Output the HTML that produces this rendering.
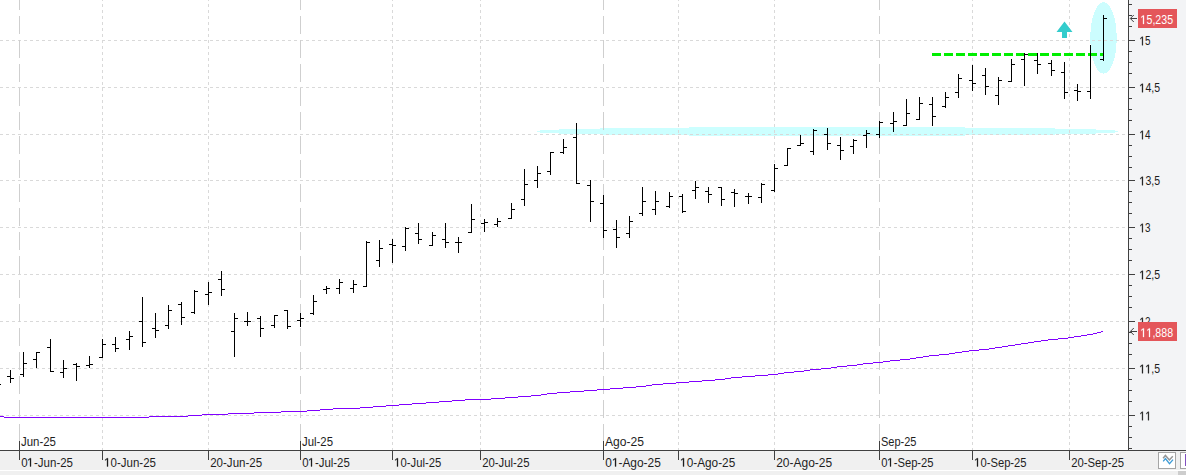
<!DOCTYPE html>
<html><head><meta charset="utf-8"><title>Chart</title>
<style>
html,body{margin:0;padding:0;background:#fff;overflow:hidden}
svg{display:block;font-family:"Liberation Sans",sans-serif}
rect,line{shape-rendering:crispEdges}
</style></head><body>
<svg width="1186" height="475" viewBox="0 0 1186 475">
<rect x="0" y="0" width="1186" height="475" fill="#ffffff"/>
<rect x="1129" y="0" width="57" height="450" fill="#f3f4f6"/>
<rect x="0" y="451" width="1186" height="19" fill="#f0f0f0"/>
<rect x="0" y="470" width="1186" height="5" fill="#f0f0f0"/>
<rect x="0" y="470" width="1186" height="1" fill="#ffffff"/>
<rect x="1178" y="471" width="8" height="4" fill="#cdcdcd"/>
<rect x="689" y="127" width="276" height="9" fill="#ccffff"/>
<rect x="600" y="128" width="455" height="7" fill="#ccffff"/>
<rect x="559" y="129" width="537" height="5" fill="#ccffff"/>
<rect x="540" y="130" width="575" height="3" fill="#ccffff"/>
<rect x="537" y="131" width="581" height="1" fill="#ccffff"/>
<ellipse cx="1103.5" cy="37.9" rx="13.2" ry="35.8" fill="#ccfdfe" shape-rendering="crispEdges"/>
<g stroke-width="1" stroke="#d9d9d9"><line x1="0" y1="40.5" x2="1128" y2="40.5" stroke-dasharray="3 3"/>
<line x1="0" y1="87.5" x2="1128" y2="87.5" stroke-dasharray="3 3"/>
<line x1="0" y1="134.5" x2="1128" y2="134.5" stroke-dasharray="3 3"/>
<line x1="0" y1="180.5" x2="1128" y2="180.5" stroke-dasharray="3 3"/>
<line x1="0" y1="227.5" x2="1128" y2="227.5" stroke-dasharray="3 3"/>
<line x1="0" y1="274.5" x2="1128" y2="274.5" stroke-dasharray="3 3"/>
<line x1="0" y1="321.5" x2="1128" y2="321.5" stroke-dasharray="3 3"/>
<line x1="0" y1="368.5" x2="1128" y2="368.5" stroke-dasharray="3 3"/>
<line x1="0" y1="415.5" x2="1128" y2="415.5" stroke-dasharray="3 3"/>
<line x1="102.5" y1="-2" x2="102.5" y2="450" stroke-dasharray="3 3"/>
<line x1="208.5" y1="-2" x2="208.5" y2="450" stroke-dasharray="3 3"/>
<line x1="392.5" y1="-2" x2="392.5" y2="450" stroke-dasharray="3 3"/>
<line x1="480.5" y1="-2" x2="480.5" y2="450" stroke-dasharray="3 3"/>
<line x1="678.5" y1="-2" x2="678.5" y2="450" stroke-dasharray="3 3"/>
<line x1="774.5" y1="-2" x2="774.5" y2="450" stroke-dasharray="3 3"/>
<line x1="972.5" y1="-2" x2="972.5" y2="450" stroke-dasharray="3 3"/>
<line x1="1069.5" y1="-2" x2="1069.5" y2="450" stroke-dasharray="3 3"/></g>
<g stroke-width="1" stroke="#cfcfcf"><line x1="19.5" y1="-8" x2="19.5" y2="450" stroke-dasharray="18 6"/>
<line x1="300.5" y1="-8" x2="300.5" y2="450" stroke-dasharray="18 6"/>
<line x1="603.5" y1="-8" x2="603.5" y2="450" stroke-dasharray="18 6"/>
<line x1="879.5" y1="-8" x2="879.5" y2="450" stroke-dasharray="18 6"/></g>
<line x1="932" y1="54.5" x2="1103" y2="54.5" stroke="#00ee00" stroke-width="3" stroke-dasharray="9 3"/>
<polygon points="1064.5,21.5 1072.5,32 1067,32 1067,38 1062,38 1062,32 1056.5,32" fill="#33cccc"/>
<rect x="0" y="416" width="4" height="1" fill="#8000ff"/>
<rect x="4" y="417" width="145" height="1" fill="#8000ff"/>
<rect x="149" y="416" width="39" height="1" fill="#8000ff"/>
<rect x="188" y="415" width="14" height="1" fill="#8000ff"/>
<rect x="202" y="414" width="26" height="1" fill="#8000ff"/>
<rect x="228" y="413" width="26" height="1" fill="#8000ff"/>
<rect x="254" y="412" width="27" height="1" fill="#8000ff"/>
<rect x="281" y="411" width="26" height="1" fill="#8000ff"/>
<rect x="307" y="410" width="13" height="1" fill="#8000ff"/>
<rect x="320" y="409" width="13" height="1" fill="#8000ff"/>
<rect x="333" y="408" width="27" height="1" fill="#8000ff"/>
<rect x="360" y="407" width="13" height="1" fill="#8000ff"/>
<rect x="373" y="406" width="13" height="1" fill="#8000ff"/>
<rect x="386" y="405" width="13" height="1" fill="#8000ff"/>
<rect x="399" y="404" width="13" height="1" fill="#8000ff"/>
<rect x="412" y="403" width="14" height="1" fill="#8000ff"/>
<rect x="426" y="402" width="13" height="1" fill="#8000ff"/>
<rect x="439" y="401" width="13" height="1" fill="#8000ff"/>
<rect x="452" y="400" width="13" height="1" fill="#8000ff"/>
<rect x="465" y="399" width="26" height="1" fill="#8000ff"/>
<rect x="491" y="398" width="14" height="1" fill="#8000ff"/>
<rect x="505" y="397" width="13" height="1" fill="#8000ff"/>
<rect x="518" y="396" width="13" height="1" fill="#8000ff"/>
<rect x="531" y="395" width="10" height="1" fill="#8000ff"/>
<rect x="541" y="394" width="6" height="1" fill="#8000ff"/>
<rect x="547" y="393" width="10" height="1" fill="#8000ff"/>
<rect x="557" y="392" width="13" height="1" fill="#8000ff"/>
<rect x="570" y="391" width="14" height="1" fill="#8000ff"/>
<rect x="584" y="390" width="13" height="1" fill="#8000ff"/>
<rect x="597" y="389" width="13" height="1" fill="#8000ff"/>
<rect x="610" y="388" width="13" height="1" fill="#8000ff"/>
<rect x="623" y="387" width="13" height="1" fill="#8000ff"/>
<rect x="636" y="386" width="10" height="1" fill="#8000ff"/>
<rect x="646" y="385" width="6" height="1" fill="#8000ff"/>
<rect x="652" y="384" width="11" height="1" fill="#8000ff"/>
<rect x="663" y="383" width="13" height="1" fill="#8000ff"/>
<rect x="676" y="382" width="13" height="1" fill="#8000ff"/>
<rect x="689" y="381" width="13" height="1" fill="#8000ff"/>
<rect x="702" y="380" width="13" height="1" fill="#8000ff"/>
<rect x="715" y="379" width="10" height="1" fill="#8000ff"/>
<rect x="725" y="378" width="6" height="1" fill="#8000ff"/>
<rect x="731" y="377" width="11" height="1" fill="#8000ff"/>
<rect x="742" y="376" width="13" height="1" fill="#8000ff"/>
<rect x="755" y="375" width="13" height="1" fill="#8000ff"/>
<rect x="768" y="374" width="10" height="1" fill="#8000ff"/>
<rect x="778" y="373" width="6" height="1" fill="#8000ff"/>
<rect x="784" y="372" width="10" height="1" fill="#8000ff"/>
<rect x="794" y="371" width="10" height="1" fill="#8000ff"/>
<rect x="804" y="370" width="6" height="1" fill="#8000ff"/>
<rect x="810" y="369" width="11" height="1" fill="#8000ff"/>
<rect x="821" y="368" width="10" height="1" fill="#8000ff"/>
<rect x="831" y="367" width="6" height="1" fill="#8000ff"/>
<rect x="837" y="366" width="10" height="1" fill="#8000ff"/>
<rect x="847" y="365" width="10" height="1" fill="#8000ff"/>
<rect x="857" y="364" width="6" height="1" fill="#8000ff"/>
<rect x="863" y="363" width="10" height="1" fill="#8000ff"/>
<rect x="873" y="362" width="10" height="1" fill="#8000ff"/>
<rect x="883" y="361" width="7" height="1" fill="#8000ff"/>
<rect x="890" y="360" width="10" height="1" fill="#8000ff"/>
<rect x="900" y="359" width="10" height="1" fill="#8000ff"/>
<rect x="910" y="358" width="6" height="1" fill="#8000ff"/>
<rect x="916" y="357" width="7" height="1" fill="#8000ff"/>
<rect x="923" y="356" width="6" height="1" fill="#8000ff"/>
<rect x="929" y="355" width="10" height="1" fill="#8000ff"/>
<rect x="939" y="354" width="10" height="1" fill="#8000ff"/>
<rect x="949" y="353" width="6" height="1" fill="#8000ff"/>
<rect x="955" y="352" width="7" height="1" fill="#8000ff"/>
<rect x="962" y="351" width="7" height="1" fill="#8000ff"/>
<rect x="969" y="350" width="10" height="1" fill="#8000ff"/>
<rect x="979" y="349" width="10" height="1" fill="#8000ff"/>
<rect x="989" y="348" width="6" height="1" fill="#8000ff"/>
<rect x="995" y="347" width="7" height="1" fill="#8000ff"/>
<rect x="1002" y="346" width="6" height="1" fill="#8000ff"/>
<rect x="1008" y="345" width="7" height="1" fill="#8000ff"/>
<rect x="1015" y="344" width="6" height="1" fill="#8000ff"/>
<rect x="1021" y="343" width="7" height="1" fill="#8000ff"/>
<rect x="1028" y="342" width="6" height="1" fill="#8000ff"/>
<rect x="1034" y="341" width="7" height="1" fill="#8000ff"/>
<rect x="1041" y="340" width="7" height="1" fill="#8000ff"/>
<rect x="1048" y="339" width="10" height="1" fill="#8000ff"/>
<rect x="1058" y="338" width="10" height="1" fill="#8000ff"/>
<rect x="1068" y="337" width="6" height="1" fill="#8000ff"/>
<rect x="1074" y="336" width="7" height="1" fill="#8000ff"/>
<rect x="1081" y="335" width="6" height="1" fill="#8000ff"/>
<rect x="1087" y="334" width="6" height="1" fill="#8000ff"/>
<rect x="1093" y="333" width="4" height="1" fill="#8000ff"/>
<rect x="1097" y="332" width="4" height="1" fill="#8000ff"/>
<rect x="1101" y="331" width="2" height="1" fill="#8000ff"/>
<rect x="0" y="384" width="1" height="1" fill="#000000"/>
<rect x="10" y="370" width="1" height="13" fill="#000000"/>
<rect x="7" y="376" width="3" height="1" fill="#000000"/>
<rect x="11" y="378" width="3" height="1" fill="#000000"/>
<rect x="23" y="352" width="1" height="25" fill="#000000"/>
<rect x="20" y="374" width="3" height="1" fill="#000000"/>
<rect x="24" y="363" width="3" height="1" fill="#000000"/>
<rect x="36" y="352" width="1" height="16" fill="#000000"/>
<rect x="33" y="359" width="3" height="1" fill="#000000"/>
<rect x="37" y="352" width="3" height="1" fill="#000000"/>
<rect x="50" y="339" width="1" height="33" fill="#000000"/>
<rect x="47" y="347" width="3" height="1" fill="#000000"/>
<rect x="51" y="371" width="3" height="1" fill="#000000"/>
<rect x="63" y="360" width="1" height="18" fill="#000000"/>
<rect x="60" y="372" width="3" height="1" fill="#000000"/>
<rect x="64" y="368" width="3" height="1" fill="#000000"/>
<rect x="76" y="363" width="1" height="18" fill="#000000"/>
<rect x="73" y="364" width="3" height="1" fill="#000000"/>
<rect x="77" y="366" width="3" height="1" fill="#000000"/>
<rect x="89" y="356" width="1" height="12" fill="#000000"/>
<rect x="86" y="365" width="3" height="1" fill="#000000"/>
<rect x="90" y="364" width="3" height="1" fill="#000000"/>
<rect x="102" y="339" width="1" height="19" fill="#000000"/>
<rect x="99" y="357" width="3" height="1" fill="#000000"/>
<rect x="103" y="344" width="3" height="1" fill="#000000"/>
<rect x="115" y="337" width="1" height="15" fill="#000000"/>
<rect x="112" y="344" width="3" height="1" fill="#000000"/>
<rect x="116" y="348" width="3" height="1" fill="#000000"/>
<rect x="129" y="331" width="1" height="19" fill="#000000"/>
<rect x="126" y="339" width="3" height="1" fill="#000000"/>
<rect x="130" y="336" width="3" height="1" fill="#000000"/>
<rect x="142" y="297" width="1" height="50" fill="#000000"/>
<rect x="139" y="321" width="3" height="1" fill="#000000"/>
<rect x="143" y="342" width="3" height="1" fill="#000000"/>
<rect x="155" y="313" width="1" height="25" fill="#000000"/>
<rect x="152" y="328" width="3" height="1" fill="#000000"/>
<rect x="156" y="330" width="3" height="1" fill="#000000"/>
<rect x="168" y="305" width="1" height="24" fill="#000000"/>
<rect x="165" y="325" width="3" height="1" fill="#000000"/>
<rect x="169" y="310" width="3" height="1" fill="#000000"/>
<rect x="181" y="302" width="1" height="23" fill="#000000"/>
<rect x="178" y="304" width="3" height="1" fill="#000000"/>
<rect x="182" y="317" width="3" height="1" fill="#000000"/>
<rect x="194" y="290" width="1" height="24" fill="#000000"/>
<rect x="191" y="312" width="3" height="1" fill="#000000"/>
<rect x="195" y="291" width="3" height="1" fill="#000000"/>
<rect x="208" y="282" width="1" height="23" fill="#000000"/>
<rect x="205" y="294" width="3" height="1" fill="#000000"/>
<rect x="209" y="292" width="3" height="1" fill="#000000"/>
<rect x="221" y="271" width="1" height="25" fill="#000000"/>
<rect x="218" y="279" width="3" height="1" fill="#000000"/>
<rect x="222" y="289" width="3" height="1" fill="#000000"/>
<rect x="234" y="313" width="1" height="44" fill="#000000"/>
<rect x="231" y="331" width="3" height="1" fill="#000000"/>
<rect x="235" y="318" width="3" height="1" fill="#000000"/>
<rect x="247" y="312" width="1" height="14" fill="#000000"/>
<rect x="244" y="321" width="3" height="1" fill="#000000"/>
<rect x="248" y="321" width="3" height="1" fill="#000000"/>
<rect x="260" y="316" width="1" height="21" fill="#000000"/>
<rect x="257" y="318" width="3" height="1" fill="#000000"/>
<rect x="261" y="328" width="3" height="1" fill="#000000"/>
<rect x="274" y="315" width="1" height="13" fill="#000000"/>
<rect x="271" y="325" width="3" height="1" fill="#000000"/>
<rect x="275" y="315" width="3" height="1" fill="#000000"/>
<rect x="287" y="310" width="1" height="19" fill="#000000"/>
<rect x="284" y="310" width="3" height="1" fill="#000000"/>
<rect x="288" y="326" width="3" height="1" fill="#000000"/>
<rect x="300" y="313" width="1" height="14" fill="#000000"/>
<rect x="297" y="320" width="3" height="1" fill="#000000"/>
<rect x="301" y="318" width="3" height="1" fill="#000000"/>
<rect x="313" y="295" width="1" height="20" fill="#000000"/>
<rect x="310" y="313" width="3" height="1" fill="#000000"/>
<rect x="314" y="301" width="3" height="1" fill="#000000"/>
<rect x="326" y="286" width="1" height="8" fill="#000000"/>
<rect x="323" y="289" width="3" height="1" fill="#000000"/>
<rect x="327" y="288" width="3" height="1" fill="#000000"/>
<rect x="339" y="279" width="1" height="15" fill="#000000"/>
<rect x="336" y="288" width="3" height="1" fill="#000000"/>
<rect x="340" y="282" width="3" height="1" fill="#000000"/>
<rect x="353" y="280" width="1" height="13" fill="#000000"/>
<rect x="350" y="288" width="3" height="1" fill="#000000"/>
<rect x="354" y="284" width="3" height="1" fill="#000000"/>
<rect x="366" y="241" width="1" height="46" fill="#000000"/>
<rect x="363" y="286" width="3" height="1" fill="#000000"/>
<rect x="367" y="242" width="3" height="1" fill="#000000"/>
<rect x="379" y="240" width="1" height="27" fill="#000000"/>
<rect x="376" y="260" width="3" height="1" fill="#000000"/>
<rect x="380" y="248" width="3" height="1" fill="#000000"/>
<rect x="392" y="239" width="1" height="24" fill="#000000"/>
<rect x="389" y="244" width="3" height="1" fill="#000000"/>
<rect x="393" y="245" width="3" height="1" fill="#000000"/>
<rect x="405" y="227" width="1" height="24" fill="#000000"/>
<rect x="402" y="246" width="3" height="1" fill="#000000"/>
<rect x="406" y="228" width="3" height="1" fill="#000000"/>
<rect x="418" y="223" width="1" height="21" fill="#000000"/>
<rect x="415" y="233" width="3" height="1" fill="#000000"/>
<rect x="419" y="239" width="3" height="1" fill="#000000"/>
<rect x="432" y="232" width="1" height="14" fill="#000000"/>
<rect x="429" y="245" width="3" height="1" fill="#000000"/>
<rect x="433" y="235" width="3" height="1" fill="#000000"/>
<rect x="445" y="223" width="1" height="25" fill="#000000"/>
<rect x="442" y="239" width="3" height="1" fill="#000000"/>
<rect x="446" y="242" width="3" height="1" fill="#000000"/>
<rect x="458" y="237" width="1" height="16" fill="#000000"/>
<rect x="455" y="242" width="3" height="1" fill="#000000"/>
<rect x="459" y="242" width="3" height="1" fill="#000000"/>
<rect x="471" y="204" width="1" height="29" fill="#000000"/>
<rect x="468" y="232" width="3" height="1" fill="#000000"/>
<rect x="472" y="219" width="3" height="1" fill="#000000"/>
<rect x="484" y="219" width="1" height="13" fill="#000000"/>
<rect x="481" y="223" width="3" height="1" fill="#000000"/>
<rect x="485" y="222" width="3" height="1" fill="#000000"/>
<rect x="497" y="218" width="1" height="9" fill="#000000"/>
<rect x="494" y="224" width="3" height="1" fill="#000000"/>
<rect x="498" y="221" width="3" height="1" fill="#000000"/>
<rect x="511" y="203" width="1" height="16" fill="#000000"/>
<rect x="508" y="218" width="3" height="1" fill="#000000"/>
<rect x="512" y="209" width="3" height="1" fill="#000000"/>
<rect x="524" y="169" width="1" height="37" fill="#000000"/>
<rect x="521" y="199" width="3" height="1" fill="#000000"/>
<rect x="525" y="184" width="3" height="1" fill="#000000"/>
<rect x="537" y="166" width="1" height="22" fill="#000000"/>
<rect x="534" y="180" width="3" height="1" fill="#000000"/>
<rect x="538" y="173" width="3" height="1" fill="#000000"/>
<rect x="550" y="152" width="1" height="23" fill="#000000"/>
<rect x="547" y="171" width="3" height="1" fill="#000000"/>
<rect x="551" y="152" width="3" height="1" fill="#000000"/>
<rect x="563" y="139" width="1" height="15" fill="#000000"/>
<rect x="560" y="152" width="3" height="1" fill="#000000"/>
<rect x="564" y="147" width="3" height="1" fill="#000000"/>
<rect x="576" y="123" width="1" height="61" fill="#000000"/>
<rect x="573" y="137" width="3" height="1" fill="#000000"/>
<rect x="577" y="183" width="3" height="1" fill="#000000"/>
<rect x="590" y="180" width="1" height="42" fill="#000000"/>
<rect x="587" y="185" width="3" height="1" fill="#000000"/>
<rect x="591" y="201" width="3" height="1" fill="#000000"/>
<rect x="603" y="195" width="1" height="43" fill="#000000"/>
<rect x="600" y="203" width="3" height="1" fill="#000000"/>
<rect x="604" y="230" width="3" height="1" fill="#000000"/>
<rect x="616" y="220" width="1" height="28" fill="#000000"/>
<rect x="613" y="229" width="3" height="1" fill="#000000"/>
<rect x="617" y="237" width="3" height="1" fill="#000000"/>
<rect x="629" y="216" width="1" height="22" fill="#000000"/>
<rect x="626" y="233" width="3" height="1" fill="#000000"/>
<rect x="630" y="221" width="3" height="1" fill="#000000"/>
<rect x="642" y="187" width="1" height="29" fill="#000000"/>
<rect x="639" y="213" width="3" height="1" fill="#000000"/>
<rect x="643" y="201" width="3" height="1" fill="#000000"/>
<rect x="655" y="191" width="1" height="24" fill="#000000"/>
<rect x="652" y="209" width="3" height="1" fill="#000000"/>
<rect x="656" y="201" width="3" height="1" fill="#000000"/>
<rect x="669" y="192" width="1" height="16" fill="#000000"/>
<rect x="666" y="206" width="3" height="1" fill="#000000"/>
<rect x="670" y="196" width="3" height="1" fill="#000000"/>
<rect x="682" y="194" width="1" height="19" fill="#000000"/>
<rect x="679" y="196" width="3" height="1" fill="#000000"/>
<rect x="683" y="211" width="3" height="1" fill="#000000"/>
<rect x="695" y="181" width="1" height="18" fill="#000000"/>
<rect x="692" y="190" width="3" height="1" fill="#000000"/>
<rect x="696" y="187" width="3" height="1" fill="#000000"/>
<rect x="708" y="187" width="1" height="16" fill="#000000"/>
<rect x="705" y="191" width="3" height="1" fill="#000000"/>
<rect x="709" y="194" width="3" height="1" fill="#000000"/>
<rect x="721" y="187" width="1" height="19" fill="#000000"/>
<rect x="718" y="187" width="3" height="1" fill="#000000"/>
<rect x="722" y="199" width="3" height="1" fill="#000000"/>
<rect x="734" y="189" width="1" height="18" fill="#000000"/>
<rect x="731" y="192" width="3" height="1" fill="#000000"/>
<rect x="735" y="193" width="3" height="1" fill="#000000"/>
<rect x="748" y="193" width="1" height="11" fill="#000000"/>
<rect x="745" y="196" width="3" height="1" fill="#000000"/>
<rect x="749" y="196" width="3" height="1" fill="#000000"/>
<rect x="761" y="183" width="1" height="20" fill="#000000"/>
<rect x="758" y="197" width="3" height="1" fill="#000000"/>
<rect x="762" y="184" width="3" height="1" fill="#000000"/>
<rect x="774" y="164" width="1" height="28" fill="#000000"/>
<rect x="771" y="190" width="3" height="1" fill="#000000"/>
<rect x="775" y="168" width="3" height="1" fill="#000000"/>
<rect x="787" y="148" width="1" height="18" fill="#000000"/>
<rect x="784" y="165" width="3" height="1" fill="#000000"/>
<rect x="788" y="148" width="3" height="1" fill="#000000"/>
<rect x="800" y="135" width="1" height="11" fill="#000000"/>
<rect x="797" y="145" width="3" height="1" fill="#000000"/>
<rect x="801" y="143" width="3" height="1" fill="#000000"/>
<rect x="813" y="129" width="1" height="26" fill="#000000"/>
<rect x="810" y="151" width="3" height="1" fill="#000000"/>
<rect x="814" y="130" width="3" height="1" fill="#000000"/>
<rect x="827" y="128" width="1" height="22" fill="#000000"/>
<rect x="824" y="134" width="3" height="1" fill="#000000"/>
<rect x="828" y="143" width="3" height="1" fill="#000000"/>
<rect x="840" y="137" width="1" height="23" fill="#000000"/>
<rect x="837" y="145" width="3" height="1" fill="#000000"/>
<rect x="841" y="150" width="3" height="1" fill="#000000"/>
<rect x="853" y="139" width="1" height="15" fill="#000000"/>
<rect x="850" y="146" width="3" height="1" fill="#000000"/>
<rect x="854" y="140" width="3" height="1" fill="#000000"/>
<rect x="866" y="130" width="1" height="18" fill="#000000"/>
<rect x="863" y="135" width="3" height="1" fill="#000000"/>
<rect x="867" y="133" width="3" height="1" fill="#000000"/>
<rect x="879" y="121" width="1" height="17" fill="#000000"/>
<rect x="876" y="134" width="3" height="1" fill="#000000"/>
<rect x="880" y="122" width="3" height="1" fill="#000000"/>
<rect x="893" y="112" width="1" height="20" fill="#000000"/>
<rect x="890" y="123" width="3" height="1" fill="#000000"/>
<rect x="894" y="121" width="3" height="1" fill="#000000"/>
<rect x="906" y="99" width="1" height="27" fill="#000000"/>
<rect x="903" y="125" width="3" height="1" fill="#000000"/>
<rect x="907" y="113" width="3" height="1" fill="#000000"/>
<rect x="919" y="97" width="1" height="23" fill="#000000"/>
<rect x="916" y="119" width="3" height="1" fill="#000000"/>
<rect x="920" y="103" width="3" height="1" fill="#000000"/>
<rect x="932" y="97" width="1" height="29" fill="#000000"/>
<rect x="929" y="104" width="3" height="1" fill="#000000"/>
<rect x="933" y="116" width="3" height="1" fill="#000000"/>
<rect x="945" y="92" width="1" height="16" fill="#000000"/>
<rect x="942" y="106" width="3" height="1" fill="#000000"/>
<rect x="946" y="97" width="3" height="1" fill="#000000"/>
<rect x="958" y="74" width="1" height="24" fill="#000000"/>
<rect x="955" y="92" width="3" height="1" fill="#000000"/>
<rect x="959" y="78" width="3" height="1" fill="#000000"/>
<rect x="972" y="65" width="1" height="26" fill="#000000"/>
<rect x="969" y="80" width="3" height="1" fill="#000000"/>
<rect x="973" y="83" width="3" height="1" fill="#000000"/>
<rect x="985" y="68" width="1" height="27" fill="#000000"/>
<rect x="982" y="75" width="3" height="1" fill="#000000"/>
<rect x="986" y="86" width="3" height="1" fill="#000000"/>
<rect x="998" y="77" width="1" height="28" fill="#000000"/>
<rect x="995" y="95" width="3" height="1" fill="#000000"/>
<rect x="999" y="80" width="3" height="1" fill="#000000"/>
<rect x="1011" y="59" width="1" height="23" fill="#000000"/>
<rect x="1008" y="81" width="3" height="1" fill="#000000"/>
<rect x="1012" y="64" width="3" height="1" fill="#000000"/>
<rect x="1024" y="53" width="1" height="33" fill="#000000"/>
<rect x="1021" y="59" width="3" height="1" fill="#000000"/>
<rect x="1025" y="54" width="3" height="1" fill="#000000"/>
<rect x="1037" y="53" width="1" height="21" fill="#000000"/>
<rect x="1034" y="60" width="3" height="1" fill="#000000"/>
<rect x="1038" y="64" width="3" height="1" fill="#000000"/>
<rect x="1051" y="60" width="1" height="16" fill="#000000"/>
<rect x="1048" y="63" width="3" height="1" fill="#000000"/>
<rect x="1052" y="70" width="3" height="1" fill="#000000"/>
<rect x="1064" y="62" width="1" height="37" fill="#000000"/>
<rect x="1061" y="72" width="3" height="1" fill="#000000"/>
<rect x="1065" y="92" width="3" height="1" fill="#000000"/>
<rect x="1077" y="84" width="1" height="17" fill="#000000"/>
<rect x="1074" y="90" width="3" height="1" fill="#000000"/>
<rect x="1078" y="91" width="3" height="1" fill="#000000"/>
<rect x="1090" y="45" width="1" height="54" fill="#000000"/>
<rect x="1087" y="91" width="3" height="1" fill="#000000"/>
<rect x="1103" y="15" width="1" height="46" fill="#000000"/>
<rect x="1100" y="59" width="3" height="1" fill="#000000"/>
<rect x="1104" y="18" width="3" height="1" fill="#000000"/>
<rect x="1128" y="0" width="1" height="451" fill="#404040"/>
<rect x="0" y="450" width="1186" height="1" fill="#404040"/>
<rect x="1129" y="4" width="3" height="1" fill="#404040"/>
<rect x="1129" y="15" width="3" height="1" fill="#404040"/>
<rect x="1129" y="26" width="3" height="1" fill="#404040"/>
<rect x="1129" y="40" width="6" height="1" fill="#404040"/>
<rect x="1129" y="51" width="3" height="1" fill="#404040"/>
<rect x="1129" y="62" width="3" height="1" fill="#404040"/>
<rect x="1129" y="73" width="3" height="1" fill="#404040"/>
<rect x="1129" y="87" width="6" height="1" fill="#404040"/>
<rect x="1129" y="98" width="3" height="1" fill="#404040"/>
<rect x="1129" y="109" width="3" height="1" fill="#404040"/>
<rect x="1129" y="120" width="3" height="1" fill="#404040"/>
<rect x="1129" y="134" width="6" height="1" fill="#404040"/>
<rect x="1129" y="145" width="3" height="1" fill="#404040"/>
<rect x="1129" y="156" width="3" height="1" fill="#404040"/>
<rect x="1129" y="167" width="3" height="1" fill="#404040"/>
<rect x="1129" y="180" width="6" height="1" fill="#404040"/>
<rect x="1129" y="191" width="3" height="1" fill="#404040"/>
<rect x="1129" y="202" width="3" height="1" fill="#404040"/>
<rect x="1129" y="213" width="3" height="1" fill="#404040"/>
<rect x="1129" y="227" width="6" height="1" fill="#404040"/>
<rect x="1129" y="238" width="3" height="1" fill="#404040"/>
<rect x="1129" y="249" width="3" height="1" fill="#404040"/>
<rect x="1129" y="260" width="3" height="1" fill="#404040"/>
<rect x="1129" y="274" width="6" height="1" fill="#404040"/>
<rect x="1129" y="285" width="3" height="1" fill="#404040"/>
<rect x="1129" y="296" width="3" height="1" fill="#404040"/>
<rect x="1129" y="307" width="3" height="1" fill="#404040"/>
<rect x="1129" y="321" width="6" height="1" fill="#404040"/>
<rect x="1129" y="332" width="3" height="1" fill="#404040"/>
<rect x="1129" y="343" width="3" height="1" fill="#404040"/>
<rect x="1129" y="354" width="3" height="1" fill="#404040"/>
<rect x="1129" y="368" width="6" height="1" fill="#404040"/>
<rect x="1129" y="379" width="3" height="1" fill="#404040"/>
<rect x="1129" y="390" width="3" height="1" fill="#404040"/>
<rect x="1129" y="401" width="3" height="1" fill="#404040"/>
<rect x="1129" y="415" width="6" height="1" fill="#404040"/>
<rect x="1129" y="426" width="3" height="1" fill="#404040"/>
<rect x="1129" y="437" width="3" height="1" fill="#404040"/>
<rect x="1129" y="448" width="3" height="1" fill="#404040"/>
<rect x="102" y="450" width="1" height="10" fill="#404040"/>
<rect x="208" y="450" width="1" height="10" fill="#404040"/>
<rect x="392" y="450" width="1" height="10" fill="#404040"/>
<rect x="480" y="450" width="1" height="10" fill="#404040"/>
<rect x="678" y="450" width="1" height="10" fill="#404040"/>
<rect x="774" y="450" width="1" height="10" fill="#404040"/>
<rect x="972" y="450" width="1" height="10" fill="#404040"/>
<rect x="1069" y="450" width="1" height="10" fill="#404040"/>
<rect x="19" y="441" width="1" height="19" fill="#404040"/>
<rect x="300" y="441" width="1" height="19" fill="#404040"/>
<rect x="603" y="441" width="1" height="19" fill="#404040"/>
<rect x="879" y="441" width="1" height="19" fill="#404040"/>
<path d="M515 0V1237L197 1010V1180L530 1409H696V0Z" fill="#1e1e1e" stroke="#1e1e1e" stroke-width="50" transform="translate(1139.51,45.3) scale(0.00483,-0.00610)"/>
<text x="1145.10" y="45.3" font-size="12.5" fill="#1e1e1e" textLength="5.50" lengthAdjust="spacingAndGlyphs">5</text>
<path d="M515 0V1237L197 1010V1180L530 1409H696V0Z" fill="#1e1e1e" stroke="#1e1e1e" stroke-width="50" transform="translate(1139.35,92.3) scale(0.00514,-0.00610)"/>
<text x="1145.46" y="92.3" font-size="12.5" fill="#1e1e1e" textLength="14.64" lengthAdjust="spacingAndGlyphs">4,5</text>
<path d="M515 0V1237L197 1010V1180L530 1409H696V0Z" fill="#1e1e1e" stroke="#1e1e1e" stroke-width="50" transform="translate(1139.51,139.3) scale(0.00483,-0.00610)"/>
<text x="1145.10" y="139.3" font-size="12.5" fill="#1e1e1e" textLength="5.50" lengthAdjust="spacingAndGlyphs">4</text>
<path d="M515 0V1237L197 1010V1180L530 1409H696V0Z" fill="#1e1e1e" stroke="#1e1e1e" stroke-width="50" transform="translate(1139.35,185.3) scale(0.00514,-0.00610)"/>
<text x="1145.46" y="185.3" font-size="12.5" fill="#1e1e1e" textLength="14.64" lengthAdjust="spacingAndGlyphs">3,5</text>
<path d="M515 0V1237L197 1010V1180L530 1409H696V0Z" fill="#1e1e1e" stroke="#1e1e1e" stroke-width="50" transform="translate(1139.51,232.3) scale(0.00483,-0.00610)"/>
<text x="1145.10" y="232.3" font-size="12.5" fill="#1e1e1e" textLength="5.50" lengthAdjust="spacingAndGlyphs">3</text>
<path d="M515 0V1237L197 1010V1180L530 1409H696V0Z" fill="#1e1e1e" stroke="#1e1e1e" stroke-width="50" transform="translate(1139.35,279.3) scale(0.00514,-0.00610)"/>
<text x="1145.46" y="279.3" font-size="12.5" fill="#1e1e1e" textLength="14.64" lengthAdjust="spacingAndGlyphs">2,5</text>
<path d="M515 0V1237L197 1010V1180L530 1409H696V0Z" fill="#1e1e1e" stroke="#1e1e1e" stroke-width="50" transform="translate(1139.51,326.3) scale(0.00483,-0.00610)"/>
<text x="1145.10" y="326.3" font-size="12.5" fill="#1e1e1e" textLength="5.50" lengthAdjust="spacingAndGlyphs">2</text>
<path d="M515 0V1237L197 1010V1180L530 1409H696V0Z" fill="#1e1e1e" stroke="#1e1e1e" stroke-width="50" transform="translate(1139.35,373.3) scale(0.00514,-0.00610)"/>
<path d="M515 0V1237L197 1010V1180L530 1409H696V0Z" fill="#1e1e1e" stroke="#1e1e1e" stroke-width="50" transform="translate(1145.35,373.3) scale(0.00514,-0.00610)"/>
<text x="1151.32" y="373.3" font-size="12.5" fill="#1e1e1e" textLength="8.78" lengthAdjust="spacingAndGlyphs">,5</text>
<path d="M515 0V1237L197 1010V1180L530 1409H696V0Z" fill="#1e1e1e" stroke="#1e1e1e" stroke-width="50" transform="translate(1139.51,420.3) scale(0.00483,-0.00610)"/>
<path d="M515 0V1237L197 1010V1180L530 1409H696V0Z" fill="#1e1e1e" stroke="#1e1e1e" stroke-width="50" transform="translate(1145.51,420.3) scale(0.00483,-0.00610)"/>
<rect x="1138" y="9" width="39" height="19" fill="#e4565a"/>
<rect x="1138" y="322" width="39" height="19" fill="#e4565a"/>
<path d="M515 0V1237L197 1010V1180L530 1409H696V0Z" fill="#ffffff" stroke="#ffffff" stroke-width="50" transform="translate(1140.33,24) scale(0.00519,-0.00610)"/>
<text x="1146.51" y="24" font-size="12.5" fill="#ffffff" textLength="26.59" lengthAdjust="spacingAndGlyphs">5,235</text>
<path d="M515 0V1237L197 1010V1180L530 1409H696V0Z" fill="#ffffff" stroke="#ffffff" stroke-width="50" transform="translate(1140.33,337) scale(0.00519,-0.00610)"/>
<path d="M515 0V1237L197 1010V1180L530 1409H696V0Z" fill="#ffffff" stroke="#ffffff" stroke-width="50" transform="translate(1146.33,337) scale(0.00519,-0.00610)"/>
<text x="1152.42" y="337" font-size="12.5" fill="#ffffff" textLength="20.68" lengthAdjust="spacingAndGlyphs">,888</text>
<path d="M1137,18.5 H1130.5 M1133.8,15 L1130.3,18.5 L1133.8,22" stroke="#404040" stroke-width="1" fill="none"/>
<path d="M1137,331.5 H1130.5 M1133.8,328 L1130.3,331.5 L1133.8,335" stroke="#404040" stroke-width="1" fill="none"/>
<text x="21.00" y="445.5" font-size="12" fill="#1e1e1e" textLength="35.00" lengthAdjust="spacingAndGlyphs">Jun-25</text>
<text x="302.00" y="445.5" font-size="12" fill="#1e1e1e" textLength="31.00" lengthAdjust="spacingAndGlyphs">Jul-25</text>
<text x="605.00" y="445.5" font-size="12" fill="#1e1e1e" textLength="39.00" lengthAdjust="spacingAndGlyphs">Ago-25</text>
<text x="881.00" y="445.5" font-size="12" fill="#1e1e1e" textLength="35.50" lengthAdjust="spacingAndGlyphs">Sep-25</text>
<text x="21.20" y="466.5" font-size="12" fill="#1e1e1e" textLength="6.40" lengthAdjust="spacingAndGlyphs">0</text>
<path d="M515 0V1237L197 1010V1180L530 1409H696V0Z" fill="#1e1e1e" stroke="#1e1e1e" stroke-width="50" transform="translate(27.11,466.5) scale(0.00562,-0.00586)"/>
<text x="34.00" y="466.5" font-size="12" fill="#1e1e1e" textLength="39.00" lengthAdjust="spacingAndGlyphs">-Jun-25</text>
<path d="M515 0V1237L197 1010V1180L530 1409H696V0Z" fill="#1e1e1e" stroke="#1e1e1e" stroke-width="50" transform="translate(104.11,466.5) scale(0.00562,-0.00586)"/>
<text x="110.60" y="466.5" font-size="12" fill="#1e1e1e" textLength="45.40" lengthAdjust="spacingAndGlyphs">0-Jun-25</text>
<text x="210.20" y="466.5" font-size="12" fill="#1e1e1e" textLength="52.00" lengthAdjust="spacingAndGlyphs">20-Jun-25</text>
<text x="302.20" y="466.5" font-size="12" fill="#1e1e1e" textLength="6.35" lengthAdjust="spacingAndGlyphs">0</text>
<path d="M515 0V1237L197 1010V1180L530 1409H696V0Z" fill="#1e1e1e" stroke="#1e1e1e" stroke-width="50" transform="translate(308.13,466.5) scale(0.00558,-0.00586)"/>
<text x="314.90" y="466.5" font-size="12" fill="#1e1e1e" textLength="34.90" lengthAdjust="spacingAndGlyphs">-Jul-25</text>
<path d="M515 0V1237L197 1010V1180L530 1409H696V0Z" fill="#1e1e1e" stroke="#1e1e1e" stroke-width="50" transform="translate(394.17,466.5) scale(0.00550,-0.00586)"/>
<text x="400.47" y="466.5" font-size="12" fill="#1e1e1e" textLength="40.73" lengthAdjust="spacingAndGlyphs">0-Jul-25</text>
<text x="482.20" y="466.5" font-size="12" fill="#1e1e1e" textLength="47.30" lengthAdjust="spacingAndGlyphs">20-Jul-25</text>
<text x="605.20" y="466.5" font-size="12" fill="#1e1e1e" textLength="6.62" lengthAdjust="spacingAndGlyphs">0</text>
<path d="M515 0V1237L197 1010V1180L530 1409H696V0Z" fill="#1e1e1e" stroke="#1e1e1e" stroke-width="50" transform="translate(612.01,466.5) scale(0.00581,-0.00586)"/>
<text x="618.44" y="466.5" font-size="12" fill="#1e1e1e" textLength="42.36" lengthAdjust="spacingAndGlyphs">-Ago-25</text>
<path d="M515 0V1237L197 1010V1180L530 1409H696V0Z" fill="#1e1e1e" stroke="#1e1e1e" stroke-width="50" transform="translate(680.04,466.5) scale(0.00575,-0.00586)"/>
<text x="686.75" y="466.5" font-size="12" fill="#1e1e1e" textLength="48.45" lengthAdjust="spacingAndGlyphs">0-Ago-25</text>
<text x="776.20" y="466.5" font-size="12" fill="#1e1e1e" textLength="56.00" lengthAdjust="spacingAndGlyphs">20-Ago-25</text>
<text x="881.20" y="466.5" font-size="12" fill="#1e1e1e" textLength="6.24" lengthAdjust="spacingAndGlyphs">0</text>
<path d="M515 0V1237L197 1010V1180L530 1409H696V0Z" fill="#1e1e1e" stroke="#1e1e1e" stroke-width="50" transform="translate(887.18,466.5) scale(0.00548,-0.00586)"/>
<text x="893.68" y="466.5" font-size="12" fill="#1e1e1e" textLength="39.92" lengthAdjust="spacingAndGlyphs">-Sep-25</text>
<path d="M515 0V1237L197 1010V1180L530 1409H696V0Z" fill="#1e1e1e" stroke="#1e1e1e" stroke-width="50" transform="translate(974.18,466.5) scale(0.00548,-0.00586)"/>
<text x="980.44" y="466.5" font-size="12" fill="#1e1e1e" textLength="46.16" lengthAdjust="spacingAndGlyphs">0-Sep-25</text>
<text x="1071.20" y="466.5" font-size="12" fill="#1e1e1e" textLength="52.80" lengthAdjust="spacingAndGlyphs">20-Sep-25</text>
<rect x="1158.5" y="452.5" width="17" height="16" fill="#ffffff" stroke="#a5a5a5" stroke-width="1"/>
<polyline points="1163.1,458.2 1165.4,455.5 1169.4,459.9 1172.8,456.3" fill="none" stroke="#969696" stroke-width="1.5"/>
<polyline points="1163.2,461.3 1165.4,458.6 1169.5,463.7 1173,459.6" fill="none" stroke="#3d9bd6" stroke-width="1.3"/>
<rect x="1180.5" y="452.5" width="17" height="16" fill="#ffffff" stroke="#a5a5a5" stroke-width="1"/>
<rect x="1185" y="454" width="1" height="12" fill="#8250c0"/>
</svg>
</body></html>
